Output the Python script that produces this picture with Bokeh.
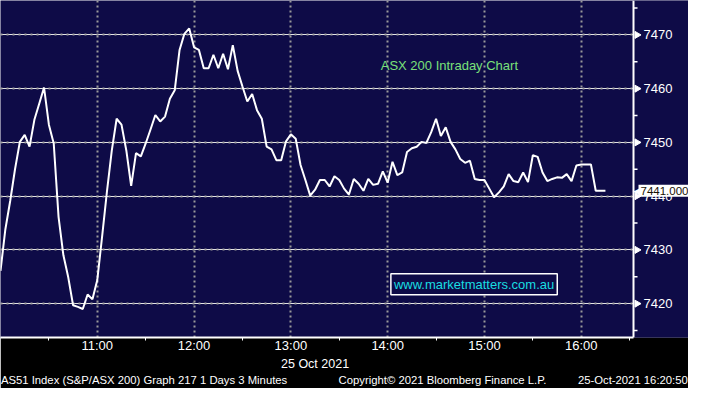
import math
from bokeh.plotting import figure
from bokeh.models import FixedTicker, Label, Range1d, LinearAxis, Grid
from bokeh.embed import file_html
from bokeh.resources import INLINE

# ASX 200 intraday, 3-minute bars from 10:00 (minutes after 10:00)
minutes = [3 * i for i in range(126)]
prices = [
    7426.1, 7433.8, 7439.1, 7445.0, 7450.1, 7451.4, 7449.2, 7454.2, 7457.2, 7460.2,
    7453.3, 7449.8, 7436.1, 7429.0, 7424.9, 7419.7, 7419.4, 7419.0, 7421.7, 7420.8,
    7424.4, 7432.5, 7440.9, 7448.5, 7454.4, 7453.3, 7448.5, 7441.9, 7448.0, 7447.4,
    7449.8, 7452.4, 7455.1, 7453.9, 7454.8, 7458.1, 7459.7, 7467.2, 7470.2, 7471.2,
    7467.7, 7467.2, 7463.8, 7463.8, 7466.3, 7463.8, 7466.5, 7463.6, 7468.1, 7463.3,
    7460.4, 7457.6, 7459.0, 7456.0, 7454.4, 7449.2, 7448.7, 7446.7, 7446.7, 7450.2,
    7451.5, 7450.7, 7445.8, 7443.0, 7440.1, 7441.2, 7443.0, 7443.0, 7441.8, 7443.7,
    7443.0, 7441.4, 7440.3, 7443.2, 7442.3, 7441.0, 7443.2, 7442.1, 7442.3, 7444.6,
    7442.5, 7446.4, 7443.9, 7444.4, 7448.2, 7448.9, 7449.2, 7450.1, 7449.9, 7451.9,
    7454.4, 7451.2, 7452.8, 7450.1, 7448.7, 7446.9, 7446.2, 7446.6, 7443.2, 7443.0,
    7443.0, 7441.4, 7439.8, 7440.7, 7441.8, 7444.1, 7442.8, 7442.6, 7444.4, 7442.6,
    7447.6, 7447.3, 7444.4, 7442.8, 7443.2, 7443.5, 7443.4, 7444.1, 7442.8, 7445.7,
    7445.9, 7445.9, 7445.9, 7441.0, 7441.0, 7441.0,
]
last_price = 7441.000

hour_ticks = [60, 120, 180, 240, 300, 360]
hour_labels = ["11:00", "12:00", "13:00", "14:00", "15:00", "16:00"]
grid_hours = [0, 60, 120, 180, 240, 300, 360]
half_hours = [30, 90, 150, 210, 270, 330, 390]
price_ticks = [7420, 7430, 7440, 7450, 7460, 7470]
price_minor = [7415, 7425, 7435, 7445, 7455, 7465, 7475]

date_text = "25 Oct 2021"
chart_title = "ASX 200 Intraday Chart"
website = "www.marketmatters.com.au"
footer_left = "AS51 Index (S&P/ASX 200) Graph 217 1 Days 3 Minutes"
footer_mid = "Copyright\u00a9 2021 Bloomberg Finance L.P."
footer_right = "25-Oct-2021 16:20:50"

NAVY = "#0e0b47"
GRID = "#9a9a9a"
FONT = "Liberation Sans"
W = 688
PX_PER_MIN = 633 / 392.4          # horizontal scale of the chart
AXIS_X = 392.4                     # price axis position (minutes after 10:00)
X_END = W / PX_PER_MIN
Y0, Y1 = 7413.7, 7476.4

p = figure(width=W, height=388, output_backend="svg", toolbar_location=None,
           x_range=Range1d(0, X_END), y_range=Range1d(Y0, Y1),
           y_axis_location=None,
           min_border_left=0, min_border_top=0, min_border_right=0, min_border_bottom=0)
p.background_fill_color = NAVY
p.border_fill_color = "#000000"
p.outline_line_color = None

# grids (dotted)
p.xgrid.ticker = FixedTicker(ticks=grid_hours)
p.xgrid.grid_line_color = GRID
p.xgrid.grid_line_dash = "2 3"
p.xgrid.grid_line_width = 2
ygrid = Grid(dimension=1, ticker=FixedTicker(ticks=price_ticks), grid_line_color=GRID,
             grid_line_dash="2 4", grid_line_width=2)
p.add_layout(ygrid)
# price-scale strip (no grid right of the price axis)
p.quad(left=[AXIS_X], right=[X_END], bottom=[Y0], top=[Y1], fill_color=NAVY, line_color=None)

# price line
p.line(minutes, prices, line_color="white", line_width=2)

# price scale on the right
p.segment(x0=[AXIS_X], y0=[Y0], x1=[AXIS_X], y1=[Y1], line_color="white", line_width=2)
p.scatter(x=[AXIS_X + 3.5 / PX_PER_MIN] * len(price_ticks), y=price_ticks, marker="triangle",
          size=7, angle=-math.pi / 2, fill_color="white", line_color="white")
p.ray(x=[AXIS_X] * len(price_minor), y=price_minor, length=4, length_units="screen",
      angle=0, line_color="white", line_width=1.5)
p.text(x=[AXIS_X] * len(price_ticks), y=price_ticks, text=[str(v) for v in price_ticks],
       x_offset=10, text_baseline="middle", text_color="white",
       text_font={"value": FONT}, text_font_size="13px")

# time axis
xa = p.xaxis[0]
xa.bounds = (0, AXIS_X)
xa.ticker = FixedTicker(ticks=hour_ticks, minor_ticks=half_hours)
xa.major_label_overrides = {t: l for t, l in zip(hour_ticks, hour_labels)}
xa.axis_line_color = "white"
xa.axis_line_width = 2
xa.major_tick_out = 0
xa.major_tick_in = 0
xa.minor_tick_out = 3
xa.minor_tick_in = 0
xa.minor_tick_line_color = "white"
xa.major_label_text_color = "white"
xa.major_label_text_font = FONT
xa.major_label_text_font_size = "13px"
xa.major_label_standoff = -3

# date line and footer line
date_pos = [195]
footer_pos = [89, 274, 392]
footer_texts = [footer_left, footer_mid, footer_right]
for pos, texts, size, standoff in ((date_pos, [date_text], "12.5px", 1),
                                   (footer_pos, footer_texts, "11.3px", 0)):
    ax = LinearAxis(ticker=FixedTicker(ticks=pos, minor_ticks=[]),
                    major_label_overrides={t: s for t, s in zip(pos, texts)})
    ax.axis_line_color = None
    ax.major_tick_line_color = None
    ax.minor_tick_line_color = None
    ax.major_tick_out = 0
    ax.major_tick_in = 0
    ax.minor_tick_out = 0
    ax.minor_tick_in = 0
    ax.axis_label_standoff = 0
    ax.major_label_text_color = "white"
    ax.major_label_text_font = FONT
    ax.major_label_text_font_size = size
    ax.major_label_standoff = standoff
    p.add_layout(ax, "below")

# in-chart texts
p.add_layout(Label(x=235.7, y=7464.3, text=chart_title, text_color="#7ae07a",
                   text_font=FONT, text_font_size="13px", text_baseline="middle"))
p.add_layout(Label(x=242.0, y=7423.6, text=website, text_color="#19dde0",
                   text_font=FONT, text_font_size="13px", text_baseline="middle",
                   border_line_color="white", border_line_width=1.5,
                   background_fill_color=NAVY, padding=3))

# last price tag
p.add_layout(Label(x=AXIS_X, y=last_price, text="\u25c0", text_color="white",
                   text_font=FONT, text_font_size="13px", text_baseline="middle",
                   x_offset=-1))
p.add_layout(Label(x=AXIS_X, y=last_price, text=f"{last_price:.3f}", text_color="#1a1205",
                   text_font=FONT, text_font_size="11.5px", text_baseline="middle",
                   x_offset=5, background_fill_color="white", padding=2))

open("out.html", "w").write(file_html(p, INLINE))
